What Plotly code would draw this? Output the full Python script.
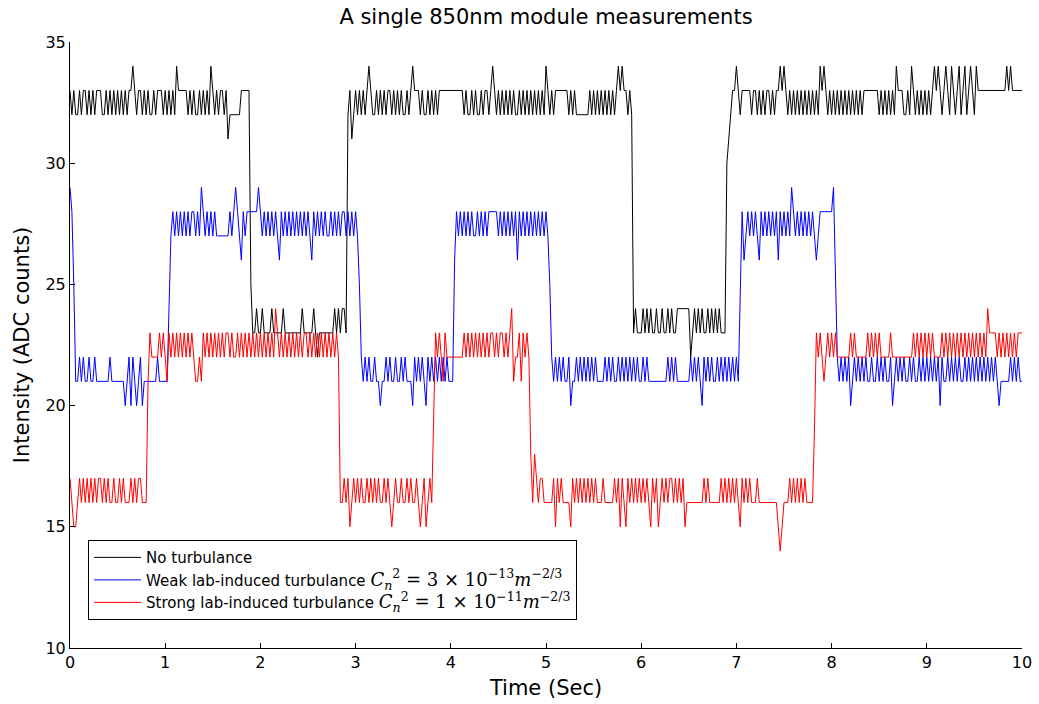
import numpy as np
import plotly.graph_objects as go

# Sampled ADC counts, one character per sample (base-36 digit = count),
# 50 samples per second (dt = 0.02 s), one string per second of record.
DT = 0.02

no_turbulence = [
    "xwxwwxwxxw" "xwxwxxxwwx" "wxwxwxwxwx" "wxxyxwxxwx" "wxwwxwxxxw",
    "xwxwxwyxxx" "xxwxwxwwxw" "xwxwyxwxwx" "xwxvwwwwww" "xxxxxpnnon",
    "nonnnnonnn" "nnonnnnnnn" "nnonnnnnon" "mnnnnnnnno" "nonoonwxvw",
    "xwxwxwxyxw" "wxwxwxwxxw" "xwxwxwwxwx" "yxxxwxwwxw" "xwxwxxxxxx",
    "xxxxxxxwxw" "wxwxwwxwxx" "wxyxwxwxwx" "wxwxwwxwxw" "xwxwxwxwxw",
    "yxwxwxxxxx" "xxwxwxwwww" "wwwxwxwxwx" "wxwxwxwxyx" "yxxwxwnonn",
    "nonononnon" "nonnononno" "oooooomnon" "ononnonono" "nonnnuvwxx",
    "yxwxxxxxwx" "xwxwxwxxwx" "wxxyxyxwxw" "xwxwxwxwxw" "xwxwyxyxwx",
    "wxwxwxwxwx" "wxwxwxwxxx" "xxxxxwxwxw" "xwxwyxxxww" "xwyxwxwxwx",
    "wxwxyxyxwx" "yxwyxwxywx" "ywxyxwyxxx" "xxxxxxxxxx" "xxyxyxxxxx",
    "x",
]

weak_turbulence = [
    "tspllmlmll" "mllmllllll" "lmlllllllk" "lmkmlklmkl" "llllllmlll",
    "llorsrsrsr" "srsrssrsrt" "srsrsrsrrr" "rrrrsrstsr" "qsrsssssst",
    "srsrsrsrsr" "qsrsrsrsrs" "rsrsrsrqsr" "srsrsrrsrs" "rsrssrsrsr",
    "srpmlmlmll" "mllkllmlml" "lmllmlmlll" "kmlmlmlkml" "mlmlmlmlml",
    "llqsrsrsrs" "rsrrsrsrsr" "sssssrsrsr" "srsrsqsrsr" "srsrsrsrsr",
    "srpmlmlmlm" "llmkllmlml" "mlmlmlmlll" "lmlmlmllml" "mlmlmlmlml",
    "lmlmllllll" "llllmlmlml" "llllllmlml" "mlkmlmlmll" "mlmlmlmlml",
    "mlosqrsrsr" "srqsrsrsrs" "rsqsrsrsrt" "srsrsrsrsr" "srqrssssss",
    "stpmlmlmlm" "klmlmlmlml" "lmllmlmlml" "lmklmlmlml" "lmlmllmlml",
    "mlmlmlmkml" "lmlmlmlmll" "mlmlmlmlml" "mlmlmlmlkl" "llllmlmlml",
    "l",
]

strong_turbulence = [
    "hgffghghgh" "ghghghhghg" "hgghgghghg" "gghghghhgg" "glnmmmmnmn",
    "mlnmnmnmnm" "nmnmnmllml" "nmnmnmnmnm" "nmnnmnmmnm" "nmnmnmnmnm",
    "nmnmnmnmon" "mnmnmnmnmn" "mnmnnmnmnm" "nmnmnmnmnm" "nmgghghfgh",
    "ghghgghghg" "hghgghghgf" "ghgghgghgh" "gghgfghfgh" "gjnmnmlnmm",
    "mmmmmmmnmn" "mnmnmnmnmn" "mnnmnmnnmn" "mnolmmnlnm" "nmigihghhg",
    "gggghfhghg" "gggfhghghg" "hghghghggg" "hggggghghf" "hgfhghghgh",
    "ghghgfhghf" "ghghghhghg" "hghfgggggg" "ggghghgggg" "gghghghghg",
    "hgfhghghgg" "ghgggggggg" "ggfefggghg" "hghghghggg" "gjnmnmlmnm",
    "nmnmmmmmmm" "nmnmmmmmmn" "mnmnmnmmmm" "mnmmmmmmmm" "mmmnmnmnmn",
    "mnmnmmmmnm" "nmnmnmnmnm" "nmnmnmnmnm" "nmonnnnmnm" "nmnmnmnmnn",
    "n",
]

series_names = [
    "No turbulance",
    "Weak lab-induced turbulance",
    "Strong lab-induced turbulance",
]
cn2_mantissa = [None, "3", "1"]
cn2_exponent = [None, "\u221213", "\u221211"]
series_colors = ["#000000", "#0000ff", "#ff0000"]

x_ticks = list(range(0, 11))
y_ticks = [10, 15, 20, 25, 30, 35]


def decode(chunks):
    return [int(c, 36) for c in "".join(chunks)]


def legend_label(name, mant, expo):
    if mant is None:
        return name
    math = (
        "<span style=\"font-family:'DejaVu Serif';font-size:18px\">"
        f"<i>C</i><sub><i>n</i></sub><sup>2</sup> = {mant} \u00d7 10<sup>{expo}</sup>"
        "<i>m</i><sup>\u22122/3</sup></span>"
    )
    return f"{name} {math}"


fig = go.Figure()
for chunks, name, mant, expo, color in zip(
    [no_turbulence, weak_turbulence, strong_turbulence],
    series_names, cn2_mantissa, cn2_exponent, series_colors,
):
    y = decode(chunks)
    t = np.arange(len(y)) * DT
    fig.add_trace(go.Scatter(
        x=t, y=y, mode="lines",
        line=dict(color=color, width=1),
        name=legend_label(name, mant, expo),
    ))

font_family = "DejaVu Sans, Liberation Sans, Arial, sans-serif"
fig.update_layout(
    width=1039, height=704, autosize=False,
    margin=dict(l=70, r=17, t=42, b=56),
    paper_bgcolor="white", plot_bgcolor="white",
    font=dict(family=font_family, size=16, color="black"),
    title=dict(text="A single 850nm module measurements",
               x=0.5, xref="paper", xanchor="center",
               y=1 - 17 / 704, yanchor="middle",
               font=dict(size=21, family=font_family)),
    legend=dict(x=0.019, y=0.178, xanchor="left", yanchor="top",
                bgcolor="white", bordercolor="black", borderwidth=1,
                font=dict(size=15, family=font_family),
                itemwidth=47, tracegroupgap=0),
    showlegend=True,
)
fig.update_xaxes(range=[0, 10], tickvals=x_ticks, ticks="inside", ticklen=5,
                 tickcolor="black", showline=True, linecolor="black", linewidth=1,
                 showgrid=False, zeroline=False, tickfont=dict(size=16),
                 automargin=False,
                 title=dict(text="Time (Sec)", standoff=9, font=dict(size=21)))
fig.update_yaxes(range=[10, 35], tickvals=y_ticks, ticks="inside", ticklen=5,
                 tickcolor="black", showline=True, linecolor="black", linewidth=1,
                 showgrid=False, zeroline=False, tickfont=dict(size=16),
                 automargin=False,
                 title=dict(text="Intensity (ADC counts)", standoff=10, font=dict(size=21)))

fig.write_html("out.html")
